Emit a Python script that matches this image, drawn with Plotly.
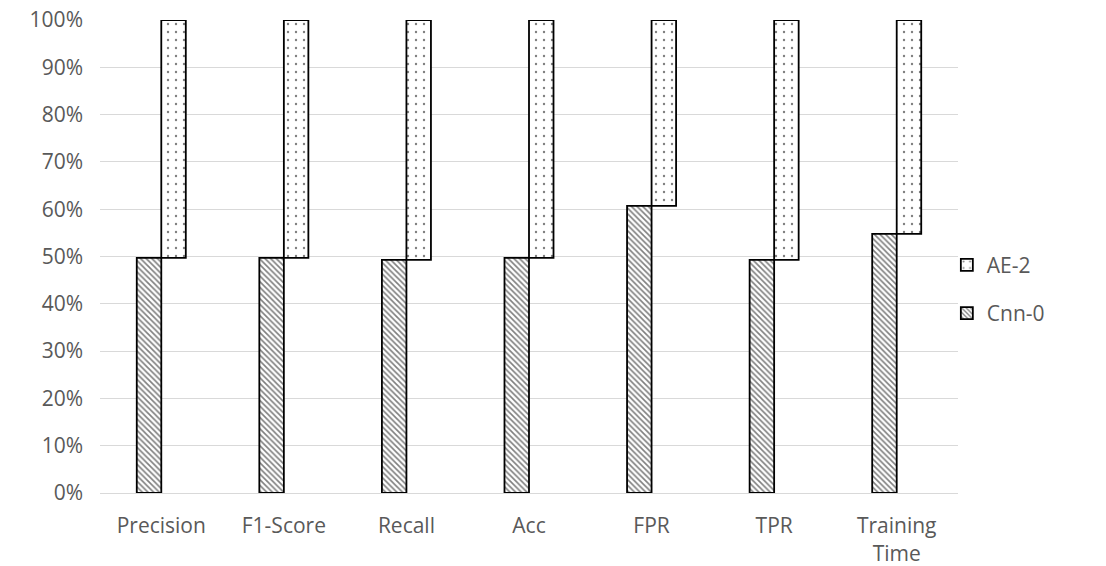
import plotly.graph_objects as go

categories = ["Precision", "F1-Score", "Recall", "Acc", "FPR", "TPR", "Training<br>Time"]
cnn0 = [49.7, 49.7, 49.3, 49.7, 60.7, 49.3, 54.8]
ae2 = [100 - v for v in cnn0]
y_ticks = list(range(0, 101, 10))
y_tick_labels = [f"{t}%" for t in y_ticks]

font_family = "Open Sans, Liberation Sans, sans-serif"
text_gray = "#595959"
font_size = 21

fig = go.Figure()

fig.add_trace(go.Bar(
    name="Cnn-0",
    x=categories,
    y=cnn0,
    width=0.2,
    offset=-0.2,
    legendgroup="cnn",
    legendrank=2,
    marker=dict(
        color="white",
        line=dict(color="black", width=1.8),
        pattern=dict(shape="\\", fgcolor="black", bgcolor="white", size=4, solidity=0.4),
    ),
))

fig.add_trace(go.Bar(
    name="AE-2",
    x=categories,
    y=ae2,
    base=cnn0,
    width=0.2,
    offset=0.0,
    legendgroup="ae",
    legendrank=1,
    marker=dict(
        color="white",
        line=dict(color="black", width=1.8),
        pattern=dict(shape=".", fgcolor="black", bgcolor="white", size=8, solidity=0.07),
    ),
))

fig.update_layout(
    barmode="overlay",
    width=1106,
    height=566,
    margin=dict(l=100, r=148, t=20, b=73),
    plot_bgcolor="white",
    paper_bgcolor="white",
    font=dict(family=font_family, size=font_size, color=text_gray),
    showlegend=True,
    legend=dict(
        x=0.987,
        y=0.431,
        xanchor="left",
        yanchor="middle",
        traceorder="grouped",
        tracegroupgap=18,
        itemwidth=30,
        font=dict(family=font_family, size=font_size, color=text_gray),
        bgcolor="rgba(0,0,0,0)",
    ),
    xaxis=dict(
        type="category",
        automargin=False,
        showgrid=False,
        showline=True,
        linecolor="#d9d9d9",
        linewidth=1,
        ticks="",
        ticklabelstandoff=14,
        tickfont=dict(size=font_size, color=text_gray),
    ),
    yaxis=dict(
        range=[0, 100],
        automargin=False,
        tickvals=y_ticks,
        ticktext=y_tick_labels,
        showgrid=True,
        gridcolor="#d9d9d9",
        gridwidth=1,
        zeroline=False,
        showline=False,
        ticks="",
        ticklabelstandoff=16,
        tickfont=dict(size=font_size, color=text_gray),
    ),
)

fig.write_html("out.html")
